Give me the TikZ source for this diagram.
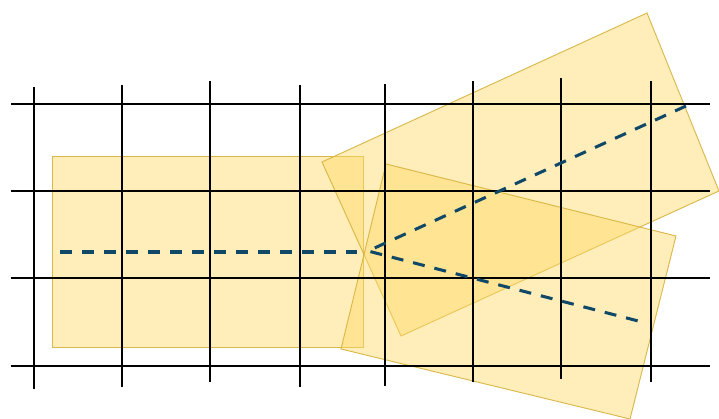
\documentclass[tikz,border=0pt]{standalone}
\usepackage{tikz}
\usetikzlibrary{positioning}
\definecolor{patchfill}{RGB}{255,217,102}
\definecolor{patchedge}{RGB}{214,178,60}
\definecolor{raycolor}{RGB}{16,72,104}
\tikzset{
  gridline/.style={draw=black, line width=1.6pt},
  patch/.style={draw=patchedge, line width=0.8pt, fill=patchfill, fill opacity=0.45, draw opacity=0.9},
  ray/.style={draw=raycolor, line width=2.6pt, dash pattern=on 0.36cm off 0.30cm}
}
\begin{document}
\begin{tikzpicture}[x=0.03cm, y=-0.03cm]
  \useasboundingbox (0,0) rectangle (719,419);
  % patches
  \path[patch] (52,156) rectangle (363,347);
  \path[patch] (322,162) -- (647,13) -- (719,191) -- (401,336) -- cycle;
  \path[patch] (386,164) -- (676,236) -- (630,419) -- (341,349) -- cycle;
  % grid
  \foreach \y in {104,191,278,366}
    \draw[gridline] (11,\y) -- (710,\y);
  \foreach \x/\top/\bot in {34/87/389, 122/85/387, 210/81/382, 300/85/387,
                            385/84/386, 473/81/382, 561/78/379, 651/81/382}
    \draw[gridline] (\x,\top) -- (\x,\bot);
  % rays
  \coordinate (start) at (60,252);
  \coordinate (stop) at (357,252);
  \coordinate (apex) at (368,251);
  \coordinate (up) at (686,106);
  \coordinate (down) at (646,323);
  \draw[ray] (start) -- (stop);
  \draw[ray, line join=round] (up) -- (apex) -- (down);
\end{tikzpicture}
\end{document}
